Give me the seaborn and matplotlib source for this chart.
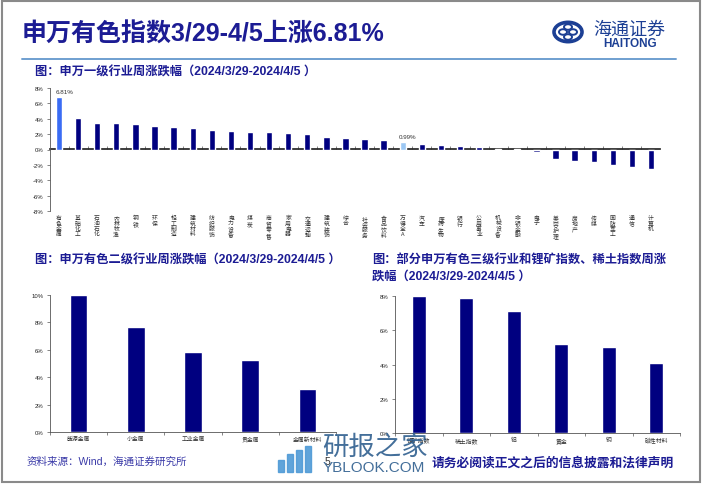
import matplotlib
matplotlib.use("Agg")
import matplotlib.pyplot as plt
import seaborn as sns
import pandas as pd
from matplotlib.patches import Rectangle, Circle, FancyArrow
from matplotlib.lines import Line2D
from matplotlib.ticker import NullFormatter

sns.set_theme(style="white")
plt.rcParams['font.family'] = ['Liberation Sans', 'Noto Sans CJK SC', 'DejaVu Sans']
plt.rcParams['axes.unicode_minus'] = False

# ---------------- data ----------------
ind_labels = ['有色金属', '基础化工', '石油石化', '农林牧渔', '钢铁', '环保', '轻工制造', '建筑材料',
              '纺织服饰', '电力设备', '煤炭', '商贸零售', '家用电器', '交通运输', '建筑装饰', '综合',
              '社会服务', '食品饮料', '万得全A', '汽车', '医药生物', '银行', '公用事业', '机械设备',
              '非银金融', '电子', '美容护理', '房地产', '传媒', '国防军工', '通信', '计算机']
ind_values = [6.81, 4.09, 3.39, 3.39, 3.35, 3.04, 2.87, 2.78, 2.57, 2.35, 2.30, 2.22, 2.13, 1.96,
              1.57, 1.45, 1.43, 1.30, 0.99, 0.74, 0.57, 0.52, 0.30, 0.13, 0.09, -0.30, -1.30,
              -1.48, -1.57, -2.00, -2.26, -2.57]
ind_ticks = [-8, -6, -4, -2, 0, 2, 4, 6, 8]

sub2_labels = ['能源金属', '小金属', '工业金属', '贵金属', '金属新材料']
sub2_values = [10.0, 7.63, 5.84, 5.23, 3.12]
sub2_ticks = [0, 2, 4, 6, 8, 10]

sub3_labels = ['锂矿指数', '稀土指数', '铝', '黄金', '铜', '磁性材料']
sub3_values = [8.0, 7.9, 7.15, 5.22, 5.0, 4.08]
sub3_ticks = [0, 2, 4, 6, 8]

NAVY = '#000080'
HILITE = '#3a6cf4'
LIGHT = '#9cc8f4'
TITLE_C = '#1c1c94'
CJK = ['Noto Sans CJK SC', 'DejaVu Sans']
MIX = ['Liberation Sans', 'Noto Sans CJK SC']

W, H = 702, 485
fig = plt.figure(figsize=(W / 100, H / 100), dpi=100)
fig.patch.set_facecolor('white')


def fx(px):
    return px / W


def fy(py):
    return 1 - py / H


def style_axes(ax, ticks, xlim):
    ax.set_facecolor('none')
    for s in ['top', 'right']:
        ax.spines[s].set_visible(False)
    ax.spines['left'].set_color('#555555')
    ax.spines['left'].set_linewidth(0.6)
    ax.set_yticks(ticks)
    ax.set_yticklabels([f"{t}%" for t in ticks], fontsize=4.3, color='#222222', family=MIX)
    ax.set_ylim(ticks[0], ticks[-1])
    ax.set_xlim(*xlim)
    ax.tick_params(axis='y', length=2.5, width=0.5, color='#555555', pad=2, left=True)
    ax.set_xlabel('')
    ax.set_ylabel('')
    ax.grid(False)


# ---------------- top chart ----------------
ax1 = fig.add_axes([fx(50), fy(212), fx(660) - fx(50), fy(89) - fy(212)])
df1 = pd.DataFrame({'cat': ind_labels, 'val': ind_values})
pal1 = {c: NAVY for c in ind_labels}
pal1['有色金属'] = HILITE
pal1['万得全A'] = LIGHT
sns.barplot(data=df1, x='cat', y='val', hue='cat', palette=pal1, legend=False,
            width=0.33, ax=ax1, saturation=1)
style_axes(ax1, ind_ticks, (-0.47, len(ind_labels) - 0.53))
ax1.spines['bottom'].set_visible(False)
ax1.set_xticks(range(len(ind_labels)))
ax1.set_xticklabels(['\n'.join(list(l)) for l in ind_labels], fontsize=4.2, family=CJK,
                    color='#333333', linespacing=1.05, va='top')
ax1.tick_params(axis='x', length=0, pad=3)
sec = ax1.secondary_xaxis(0.5)
sec.set_xticks([i + 0.5 for i in range(-1, len(ind_labels))])
sec.xaxis.set_major_formatter(NullFormatter())
sec.tick_params(axis='x', length=2, width=0.5, color='#555555', labelbottom=False,
                labelsize=1, direction='out')
sec.spines['bottom'].set_color('#555555')
sec.spines['bottom'].set_linewidth(0.6)
for i, (l, v) in enumerate(zip(ind_labels, ind_values)):
    if l in ('有色金属', '万得全A'):
        ax1.text(i - 0.2, v + 0.35, f"{v:.2f}%", fontsize=4.5, color='#333333', family=MIX,
                 ha='left', va='bottom')

# ---------------- bottom left ----------------
ax2 = fig.add_axes([fx(50), fy(433), fx(336) - fx(50), fy(296) - fy(433)])
df2 = pd.DataFrame({'cat': sub2_labels, 'val': sub2_values})
sns.barplot(data=df2, x='cat', y='val', color=NAVY, width=0.31, ax=ax2, saturation=1)
style_axes(ax2, sub2_ticks, (-0.49, len(sub2_labels) - 0.51))
ax2.spines['bottom'].set_color('#555555')
ax2.spines['bottom'].set_linewidth(0.6)
ax2.set_xticks(range(len(sub2_labels)))
ax2.set_xticklabels(sub2_labels, fontsize=4.2, family=CJK, color='#333333')
ax2.tick_params(axis='x', length=0, pad=3)
ax2.set_xticks([i + 0.5 for i in range(-1, len(sub2_labels))], minor=True)
ax2.tick_params(axis='x', which='minor', length=2, width=0.5, color='#555555', bottom=True)

# ---------------- bottom right ----------------
ax3 = fig.add_axes([fx(395), fy(434), fx(680) - fx(395), fy(297) - fy(434)])
df3 = pd.DataFrame({'cat': sub3_labels, 'val': sub3_values})
sns.barplot(data=df3, x='cat', y='val', color=NAVY, width=0.30, ax=ax3, saturation=1)
style_axes(ax3, sub3_ticks, (-0.5, len(sub3_labels) - 0.5))
ax3.spines['bottom'].set_color('#555555')
ax3.spines['bottom'].set_linewidth(0.6)
ax3.set_xticks(range(len(sub3_labels)))
ax3.set_xticklabels(sub3_labels, fontsize=4.2, family=CJK, color='#333333')
ax3.tick_params(axis='x', length=0, pad=3)
ax3.set_xticks([i + 0.5 for i in range(-1, len(sub3_labels))], minor=True)
ax3.tick_params(axis='x', which='minor', length=2, width=0.5, color='#555555', bottom=True)

# ---------------- texts / decorations ----------------
fig.text(fx(22), fy(35), '申万有色指数3/29-4/5上涨6.81%', fontsize=18, fontweight='bold',
         color=TITLE_C, family=MIX, va='center', ha='left')
fig.add_artist(Line2D([fx(22), fx(676)], [fy(60), fy(60)], color='#6f9fd0', lw=1.4))

TS = 8.8
fig.text(fx(35), fy(73), '图：申万一级行业周涨跌幅（2024/3/29-2024/4/5 ）', fontsize=TS,
         fontweight='bold', color=TITLE_C, family=MIX, va='center', ha='left')
fig.text(fx(35), fy(261), '图：申万有色二级行业周涨跌幅（2024/3/29-2024/4/5 ）', fontsize=TS,
         fontweight='bold', color=TITLE_C, family=MIX, va='center', ha='left')
fig.text(fx(372), fy(261), '图：部分申万有色三级行业和锂矿指数、稀土指数周涨', fontsize=TS,
         fontweight='bold', color=TITLE_C, family=MIX, va='center', ha='left')
fig.text(fx(372), fy(277), '跌幅（2024/3/29-2024/4/5 ）', fontsize=TS,
         fontweight='bold', color=TITLE_C, family=MIX, va='center', ha='left')

# logo
LOGO = '#1c3f94'
fig.add_artist(Circle((fx(568), fy(33)), 14 / W, transform=fig.transFigure, fill=False,
                      ec=LOGO, lw=2.6))
for dx, dy in [(-5, 0), (5, 0), (0, -5), (0, 5)]:
    fig.add_artist(Circle((fx(568 + dx), fy(33 + dy)), 4 / W, transform=fig.transFigure,
                          fill=False, ec=LOGO, lw=1.4))
fig.text(fx(593), fy(30), '海通证券', fontsize=13, color=LOGO, family=CJK, fontstyle='italic',
         va='center', ha='left')
fig.text(fx(603), fy(44), 'HAITONG', fontsize=8.5, fontweight='bold', color=LOGO, family=MIX,
         va='center', ha='left')

# footer
fig.text(fx(27), fy(462), '资料来源：Wind，海通证券研究所', fontsize=7.6, color='#3a3aa8', family=MIX,
         va='center', ha='left')
fig.text(fx(327), fy(462), '5', fontsize=7.5, color='#333333', family=MIX, va='center', ha='center')
fig.text(fx(432), fy(463), '请务必阅读正文之后的信息披露和法律声明', fontsize=9.2, fontweight='bold',
         color=TITLE_C, family=CJK, va='center', ha='left')

# watermark
WM = '#2f5f8f'
fig.text(fx(322), fy(447), '研报之家', fontsize=19, color=WM, family=CJK, va='center',
         ha='left', alpha=0.9)
fig.text(fx(323), fy(468), 'YBLOOK.COM', fontsize=11, color=WM, family=MIX, va='center',
         ha='left', alpha=0.9)
for k, hgt in enumerate([12, 18, 22, 26]):
    fig.add_artist(Rectangle((fx(278 + k * 9), fy(473)), 6 / W, hgt / H,
                             transform=fig.transFigure, color='#4f9ad6', alpha=0.9))

# page border
fig.add_artist(Rectangle((0.003, 0.004), 0.994, 0.992, transform=fig.transFigure, fill=False,
                         ec='#8a8a8a', lw=1.5))

fig.savefig('out.png', dpi=100, facecolor='white')
